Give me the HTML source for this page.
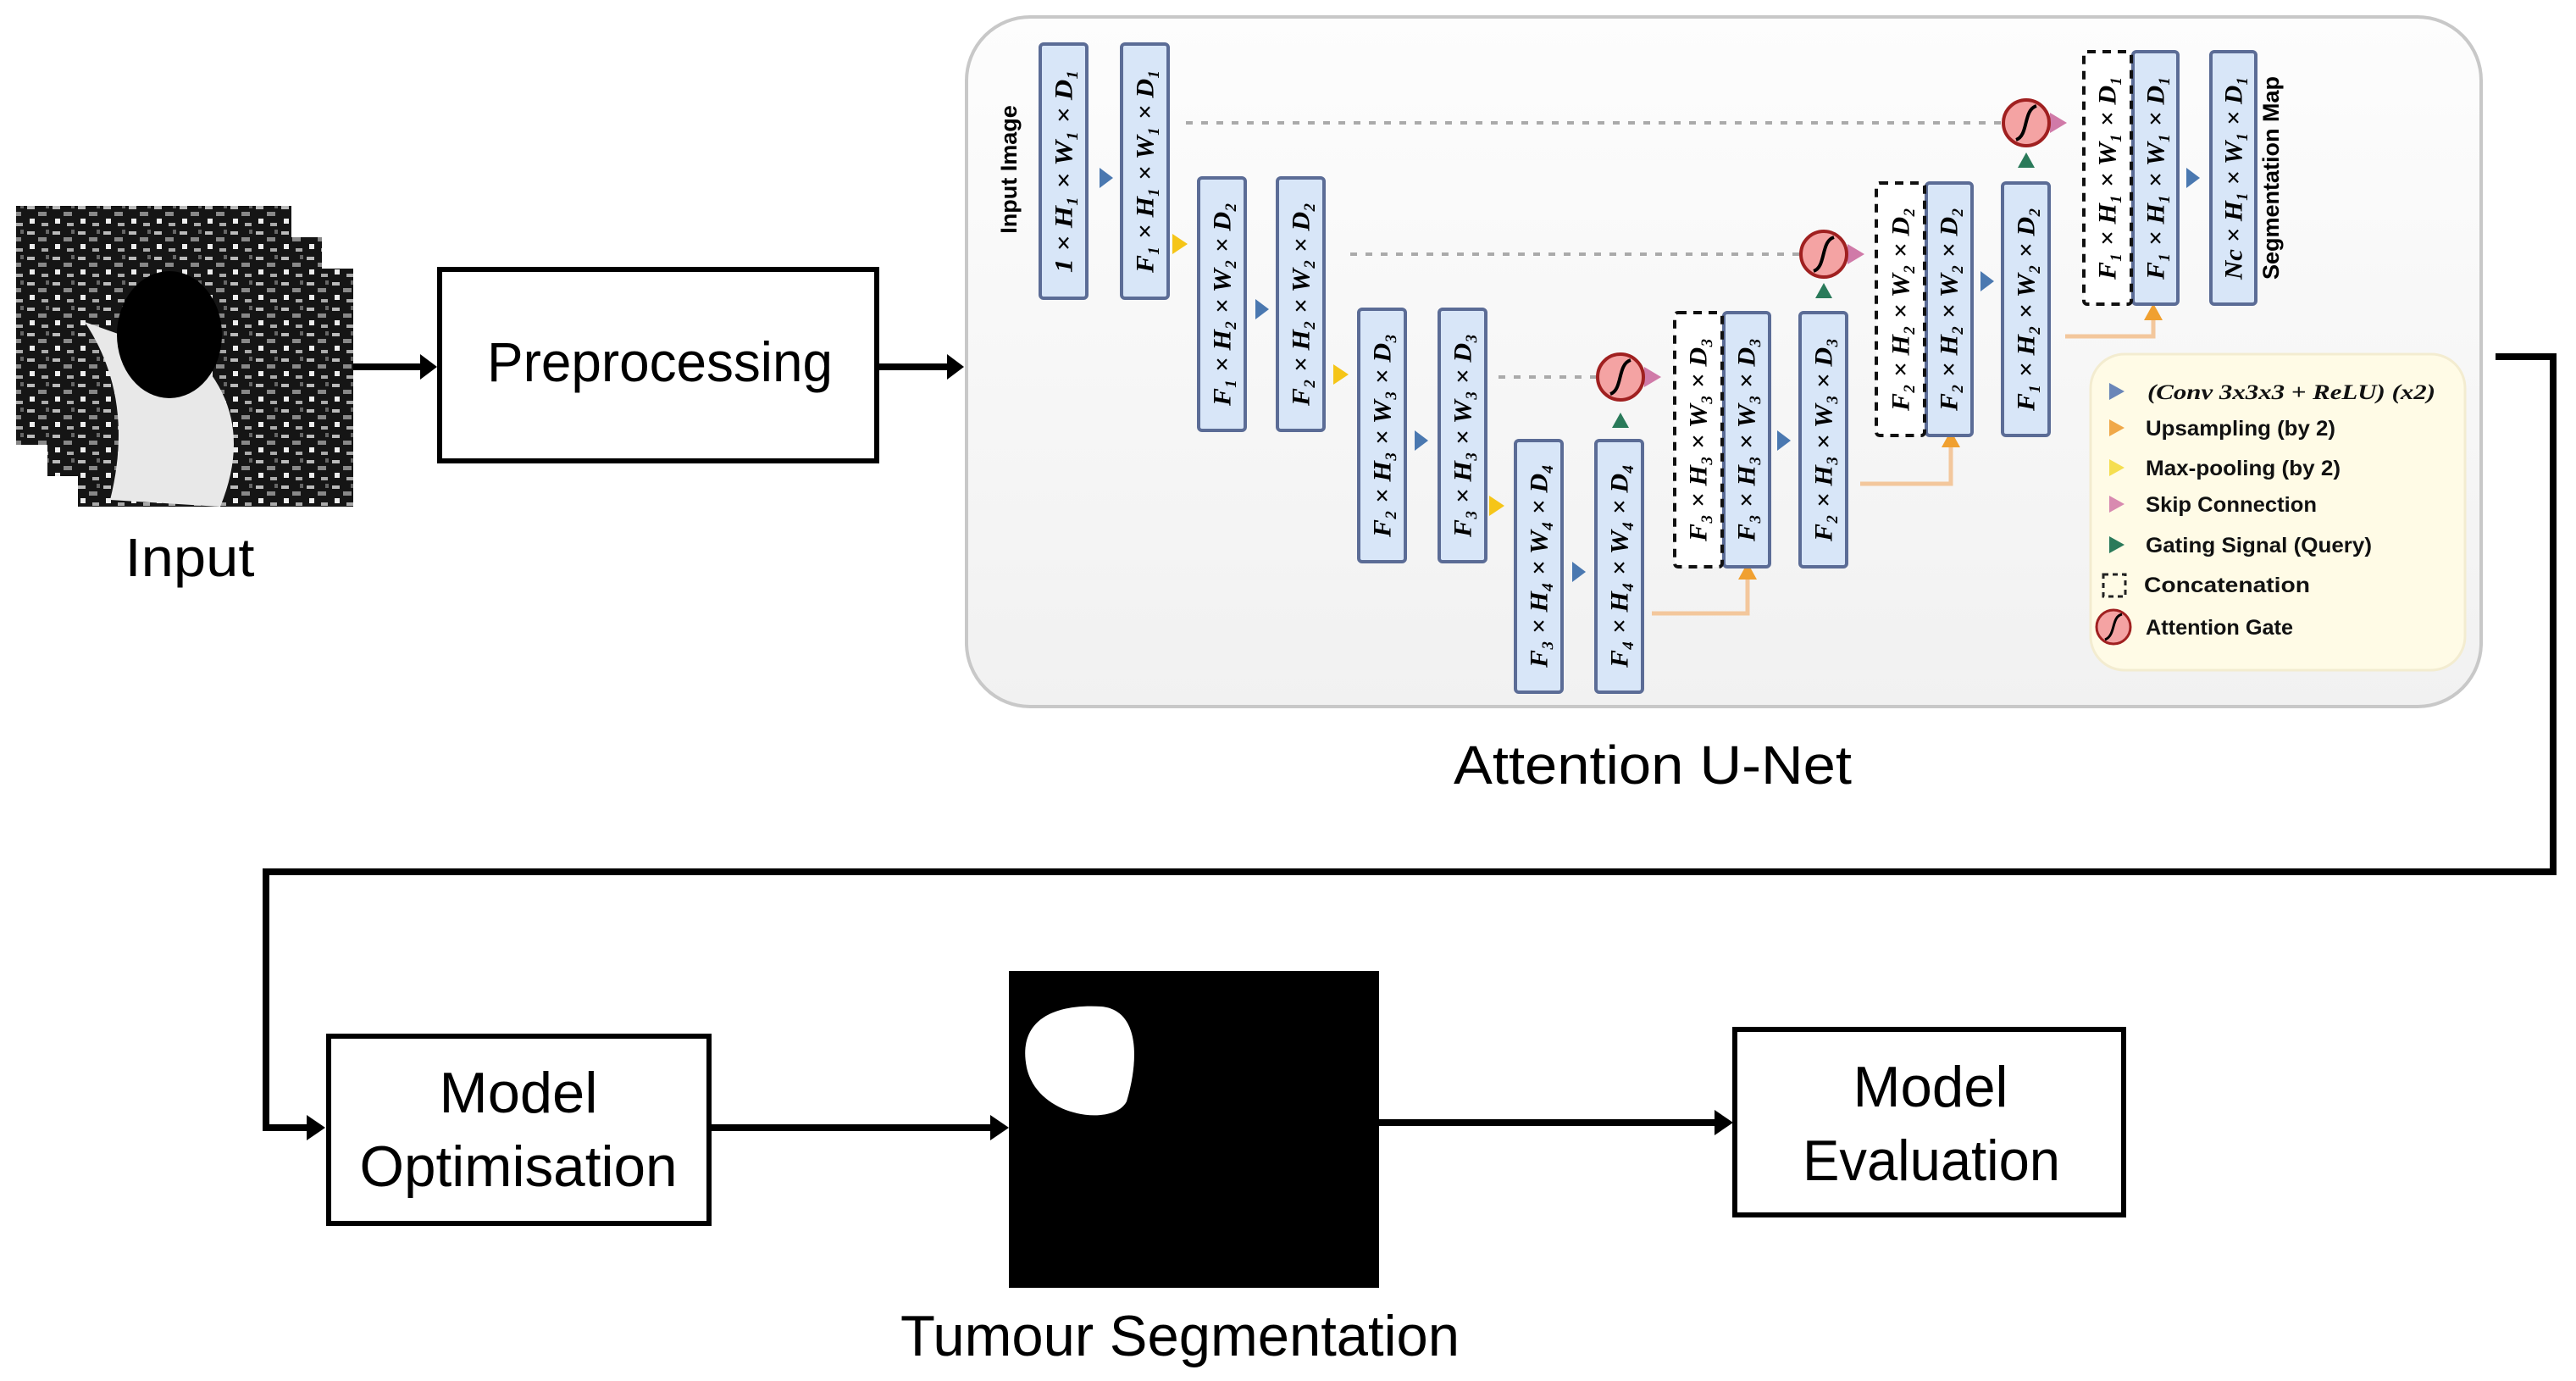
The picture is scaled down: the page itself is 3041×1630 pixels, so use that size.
<!DOCTYPE html>
<html><head><meta charset="utf-8"><style>
html,body{margin:0;padding:0;background:#fff;}
svg{display:block;}
.c{font-family:"Liberation Sans",sans-serif;fill:#000;}
.b{font-family:"Liberation Serif",serif;font-weight:bold;font-style:italic;font-size:30px;fill:#000;}
.lg{font-family:"Liberation Sans",sans-serif;font-weight:bold;font-size:25px;fill:#111;}
</style></head><body>
<svg width="3041" height="1630" viewBox="0 0 3041 1630" xmlns="http://www.w3.org/2000/svg">
<defs>
<pattern id="spk" width="30" height="30" patternUnits="userSpaceOnUse">
<rect width="30" height="30" fill="#151515"/>
<rect x="2" y="3" width="9" height="4" fill="#bbb"/><rect x="15" y="10" width="10" height="5" fill="#888"/>
<rect x="5" y="18" width="6" height="6" fill="#eee"/><rect x="19" y="23" width="8" height="4" fill="#aaa"/>
<rect x="24" y="1" width="4" height="5" fill="#666"/>
</pattern>
<linearGradient id="pg" x1="0" y1="0" x2="0" y2="1"><stop offset="0" stop-color="#fdfdfd"/><stop offset="1" stop-color="#f1f1f1"/></linearGradient>
</defs>

<!-- input stack -->
<rect x="19" y="243" width="325" height="282" fill="url(#spk)"/>
<rect x="56" y="280" width="324" height="282" fill="url(#spk)"/>
<rect x="92" y="317" width="325" height="281" fill="url(#spk)"/>
<path d="M100 380 Q160 470 130 590 L260 598 Q300 500 240 430 Z" fill="#e8e8e8"/>
<ellipse cx="200" cy="395" rx="62" ry="75" fill="#000"/>
<text class="c" x="224" y="680" font-size="64" text-anchor="middle" textLength="153" lengthAdjust="spacingAndGlyphs">Input</text>

<!-- preprocessing -->
<rect x="519" y="318" width="516" height="226" fill="#fff" stroke="#000" stroke-width="6"/>
<text class="c" x="779" y="450" font-size="66" text-anchor="middle" textLength="408" lengthAdjust="spacingAndGlyphs">Preprocessing</text>
<line x1="417" y1="433" x2="500" y2="433" stroke="#000" stroke-width="8"/>
<path d="M496 418 L516 433 L496 448 Z" fill="#000"/>
<line x1="1038" y1="433" x2="1122" y2="433" stroke="#000" stroke-width="8"/>
<path d="M1118 418 L1138 433 L1118 448 Z" fill="#000"/>

<!-- attention unet panel -->
<rect x="1141" y="20" width="1788" height="814" rx="75" fill="url(#pg)" stroke="#c8c8c8" stroke-width="4"/>
<text class="c" x="1951" y="925" font-size="64" text-anchor="middle" textLength="470" lengthAdjust="spacingAndGlyphs">Attention U-Net</text>
<text x="1200" y="200" font-family="Liberation Sans,sans-serif" font-weight="bold" font-size="27" text-anchor="middle" transform="rotate(-90 1200 200)">Input Image</text>
<text x="2690" y="210" font-family="Liberation Sans,sans-serif" font-weight="bold" font-size="27" text-anchor="middle" transform="rotate(-90 2690 210)">Segmentation Map</text>

<!-- skip dotted lines -->
<g stroke="#aaa" stroke-width="4" stroke-dasharray="8 10">
<line x1="1400" y1="145" x2="2362" y2="145"/>
<line x1="1594" y1="300" x2="2124" y2="300"/>
<line x1="1769" y1="445" x2="1884" y2="445"/>
</g>
<!-- upsampling lines -->
<g stroke="#f3c79c" stroke-width="5" fill="none">
<path d="M1950 724 H2063 V680"/><path d="M2196 571 H2303 V525"/><path d="M2438 397 H2542 V370"/>
</g>
<g fill="#f0a030">
<path d="M2052 684 L2063 664 L2074 684Z"/><path d="M2292 528 L2303 508 L2314 528Z"/><path d="M2531 378 L2542 358 L2553 378Z"/>
</g>

<!-- blocks -->
<g fill="#d8e6f8" stroke="#5b6c96" stroke-width="4">
<rect x="1228" y="52" width="55" height="300" rx="4"/>
<rect x="1324" y="52" width="55" height="300" rx="4"/>
<rect x="1415" y="210" width="55" height="298" rx="4"/>
<rect x="1508" y="210" width="55" height="298" rx="4"/>
<rect x="1604" y="365" width="55" height="298" rx="4"/>
<rect x="1699" y="365" width="55" height="298" rx="4"/>
<rect x="1789" y="520" width="55" height="297" rx="4"/>
<rect x="1884" y="520" width="55" height="297" rx="4"/>
<rect x="2035" y="369" width="54" height="300" rx="4"/>
<rect x="2125" y="369" width="55" height="300" rx="4"/>
<rect x="2274" y="216" width="54" height="298" rx="4"/>
<rect x="2364" y="216" width="55" height="298" rx="4"/>
<rect x="2518" y="61" width="53" height="298" rx="4"/>
<rect x="2610" y="61" width="53" height="298" rx="4"/>
</g>
<g fill="#fff" stroke="#111" stroke-width="4" stroke-dasharray="10 8">
<rect x="1977" y="369" width="56" height="300" rx="4"/>
<rect x="2215" y="216" width="57" height="298" rx="4"/>
<rect x="2460" y="61" width="56" height="298" rx="4"/>
</g>
<g class="b" text-anchor="middle" dominant-baseline="central">
<text transform="translate(1256,202) rotate(-90)" textLength="240" lengthAdjust="spacingAndGlyphs">1 × H₁ × W₁ × D₁</text>
<text transform="translate(1352,202) rotate(-90)" textLength="240" lengthAdjust="spacingAndGlyphs">F₁ × H₁ × W₁ × D₁</text>
<text transform="translate(1443,359) rotate(-90)" textLength="240" lengthAdjust="spacingAndGlyphs">F₁ × H₂ × W₂ × D₂</text>
<text transform="translate(1536,359) rotate(-90)" textLength="240" lengthAdjust="spacingAndGlyphs">F₂ × H₂ × W₂ × D₂</text>
<text transform="translate(1632,514) rotate(-90)" textLength="240" lengthAdjust="spacingAndGlyphs">F₂ × H₃ × W₃ × D₃</text>
<text transform="translate(1727,514) rotate(-90)" textLength="240" lengthAdjust="spacingAndGlyphs">F₃ × H₃ × W₃ × D₃</text>
<text transform="translate(1817,668) rotate(-90)" textLength="240" lengthAdjust="spacingAndGlyphs">F₃ × H₄ × W₄ × D₄</text>
<text transform="translate(1912,668) rotate(-90)" textLength="240" lengthAdjust="spacingAndGlyphs">F₄ × H₄ × W₄ × D₄</text>
<text transform="translate(2005,519) rotate(-90)" textLength="240" lengthAdjust="spacingAndGlyphs">F₃ × H₃ × W₃ × D₃</text>
<text transform="translate(2062,519) rotate(-90)" textLength="240" lengthAdjust="spacingAndGlyphs">F₃ × H₃ × W₃ × D₃</text>
<text transform="translate(2153,519) rotate(-90)" textLength="240" lengthAdjust="spacingAndGlyphs">F₂ × H₃ × W₃ × D₃</text>
<text transform="translate(2244,365) rotate(-90)" textLength="240" lengthAdjust="spacingAndGlyphs">F₂ × H₂ × W₂ × D₂</text>
<text transform="translate(2301,365) rotate(-90)" textLength="240" lengthAdjust="spacingAndGlyphs">F₂ × H₂ × W₂ × D₂</text>
<text transform="translate(2392,365) rotate(-90)" textLength="240" lengthAdjust="spacingAndGlyphs">F₁ × H₂ × W₂ × D₂</text>
<text transform="translate(2488,210) rotate(-90)" textLength="240" lengthAdjust="spacingAndGlyphs">F₁ × H₁ × W₁ × D₁</text>
<text transform="translate(2545,210) rotate(-90)" textLength="240" lengthAdjust="spacingAndGlyphs">F₁ × H₁ × W₁ × D₁</text>
<text transform="translate(2637,210) rotate(-90)" textLength="240" lengthAdjust="spacingAndGlyphs">Nc × H₁ × W₁ × D₁</text>
</g>

<!-- blue conv arrows -->
<g fill="#4a78b0">
<path d="M1298 198 L1314 210 L1298 222Z"/><path d="M1482 353 L1498 365 L1482 377Z"/>
<path d="M1670 508 L1686 520 L1670 532Z"/><path d="M1856 663 L1872 675 L1856 687Z"/>
<path d="M2098 508 L2114 520 L2098 532Z"/><path d="M2338 320 L2354 332 L2338 344Z"/>
<path d="M2581 198 L2597 210 L2581 222Z"/>
</g>
<!-- yellow max-pool -->
<g fill="#f5c518">
<path d="M1384 276 L1402 288 L1384 300Z"/><path d="M1574 430 L1592 442 L1574 454Z"/><path d="M1758 585 L1776 597 L1758 609Z"/>
</g>
<!-- attention gates -->
<g>
<path d="M2420 133 L2440 145 L2420 157Z" fill="#d07aa8"/>
<path d="M2181 288 L2201 300 L2181 312Z" fill="#d07aa8"/>
<path d="M1941 433 L1961 445 L1941 457Z" fill="#d07aa8"/>
<g fill="#f4a3a3" stroke="#a02020" stroke-width="4">
<circle cx="2392" cy="145" r="27"/><circle cx="2153" cy="300" r="27"/><circle cx="1913" cy="445" r="27"/>
</g>
<g fill="none" stroke="#000" stroke-width="4">
<path d="M2380 165 C2395 160 2388 130 2404 125"/><path d="M2141 320 C2156 315 2149 285 2165 280"/><path d="M1901 465 C1916 460 1909 430 1925 425"/>
</g>
<g fill="#2a7a5a">
<path d="M2382 198 L2392 180 L2402 198Z"/><path d="M2143 352 L2153 334 L2163 352Z"/><path d="M1903 505 L1913 487 L1923 505Z"/>
</g>
</g>

<!-- legend -->
<rect x="2468" y="418" width="442" height="373" rx="40" fill="#fffbe6" stroke="#f3ecd0" stroke-width="3"/>
<path d="M2490 452 L2508 462 L2490 472Z" fill="#6a86b8"/>
<path d="M2490 495 L2508 505 L2490 515Z" fill="#f0a848"/>
<path d="M2490 542 L2508 552 L2490 562Z" fill="#f5de50"/>
<path d="M2490 585 L2508 595 L2490 605Z" fill="#d88ab0"/>
<path d="M2490 633 L2508 643 L2490 653Z" fill="#2a7a5a"/>
<rect x="2483" y="678" width="26" height="26" fill="none" stroke="#222" stroke-width="3" stroke-dasharray="6 5"/>
<circle cx="2495" cy="740" r="20" fill="#f4a3a3" stroke="#a02020" stroke-width="3"/>
<path d="M2485 755 C2498 750 2492 728 2505 725" fill="none" stroke="#000" stroke-width="3"/>
<g class="lg">
<text x="2535" y="471" font-style="italic" font-family="Liberation Serif,serif" textLength="340" lengthAdjust="spacingAndGlyphs">(Conv 3x3x3 + ReLU) (x2)</text>
<text x="2533" y="514" textLength="224" lengthAdjust="spacingAndGlyphs">Upsampling (by 2)</text>
<text x="2533" y="561" textLength="230" lengthAdjust="spacingAndGlyphs">Max-pooling (by 2)</text>
<text x="2533" y="604" textLength="202" lengthAdjust="spacingAndGlyphs">Skip Connection</text>
<text x="2533" y="652" textLength="267" lengthAdjust="spacingAndGlyphs">Gating Signal (Query)</text>
<text x="2531" y="699" textLength="196" lengthAdjust="spacingAndGlyphs">Concatenation</text>
<text x="2533" y="749" textLength="174" lengthAdjust="spacingAndGlyphs">Attention Gate</text>
</g>

<!-- long connector -->
<path d="M2946 421 H3014 V1029 H314 V1331 H366" fill="none" stroke="#000" stroke-width="8"/>
<path d="M362 1316 L384 1331 L362 1346Z" fill="#000"/>

<!-- model optimisation -->
<rect x="388" y="1223" width="449" height="221" fill="#fff" stroke="#000" stroke-width="6"/>
<text class="c" x="612" y="1313" font-size="68" text-anchor="middle" textLength="187" lengthAdjust="spacingAndGlyphs">Model</text>
<text class="c" x="612" y="1400" font-size="68" text-anchor="middle" textLength="375" lengthAdjust="spacingAndGlyphs">Optimisation</text>
<line x1="840" y1="1331" x2="1173" y2="1331" stroke="#000" stroke-width="8"/>
<path d="M1169 1316 L1191 1331 L1169 1346Z" fill="#000"/>

<!-- segmentation -->
<rect x="1191" y="1146" width="437" height="374" fill="#000"/>
<path d="M1212 1260 C1200 1200 1250 1185 1300 1188 C1345 1192 1345 1250 1330 1300 C1315 1330 1225 1320 1212 1260Z" fill="#fff"/>
<text class="c" x="1393" y="1600" font-size="68" text-anchor="middle" textLength="660" lengthAdjust="spacingAndGlyphs">Tumour Segmentation</text>
<line x1="1628" y1="1325" x2="2028" y2="1325" stroke="#000" stroke-width="8"/>
<path d="M2024 1310 L2046 1325 L2024 1340Z" fill="#000"/>

<!-- model evaluation -->
<rect x="2048" y="1215" width="459" height="219" fill="#fff" stroke="#000" stroke-width="6"/>
<text class="c" x="2279" y="1306" font-size="68" text-anchor="middle" textLength="183" lengthAdjust="spacingAndGlyphs">Model</text>
<text class="c" x="2280" y="1393" font-size="68" text-anchor="middle" textLength="304" lengthAdjust="spacingAndGlyphs">Evaluation</text>
</svg>
</body></html>
